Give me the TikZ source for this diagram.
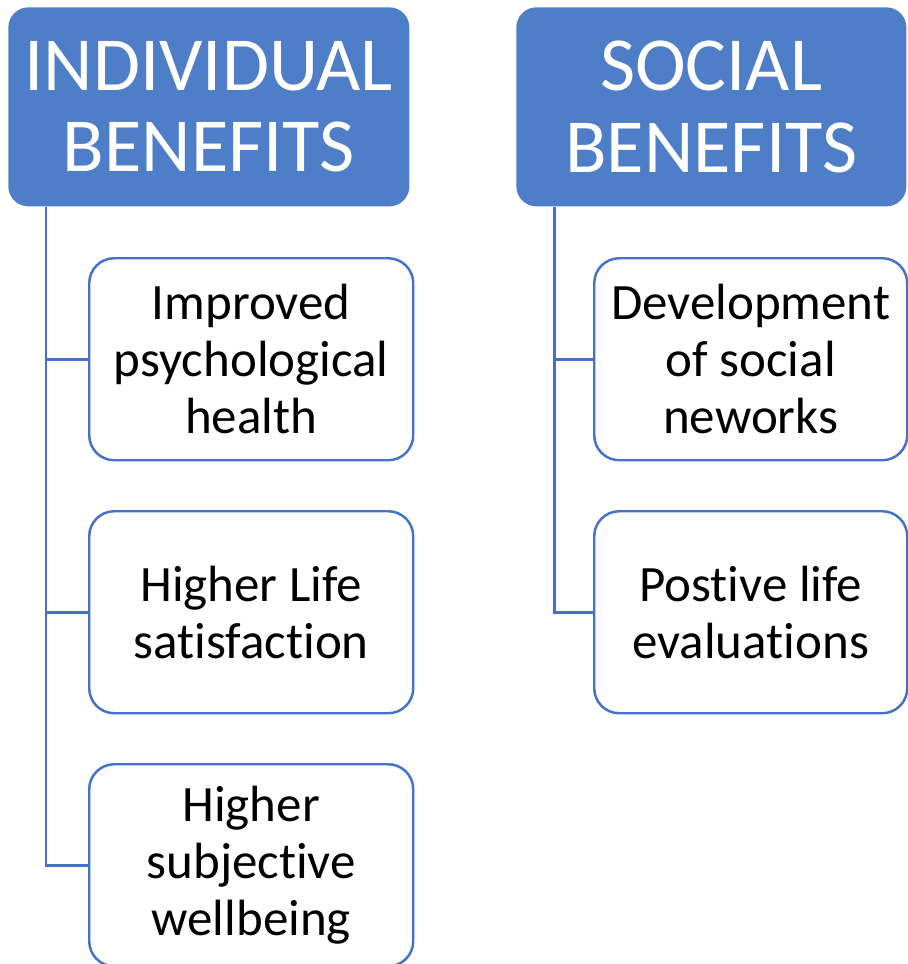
\documentclass[tikz,border=0pt]{standalone}
\usepackage{fontspec}
\setmainfont{Carlito}[Ligatures=NoCommon]
\usetikzlibrary{calc}
\definecolor{headblue}{HTML}{4F7EC9}
\definecolor{lineblue}{HTML}{4472C4}
\begin{document}
\begin{tikzpicture}
    \tikzstyle{line} = [draw=lineblue, line width=1.7pt]
    \tikzstyle{head} = [rectangle, rounded corners=0.4cm, fill=headblue,
        text=white, align=center, minimum height=3.98cm,
        font=\fontsize{43.5}{46.5}\selectfont]
    \tikzstyle{rec} = [rectangle, rounded corners=0.5cm, draw=lineblue,
        line width=1.4pt, fill=white, align=center, minimum height=4.04cm,
        font=\fontsize{29}{32.5}\selectfont]

    \useasboundingbox (0,0) rectangle (18.16,-19.28);

    \node(individual) [head, minimum width=8.02cm]
        at (0.16,-0.14) [anchor=north west]
        {INDIVIDUAL\\ BENEFITS};
    \node(social) [head, minimum width=7.8cm]
        at (10.32,-0.14) [anchor=north west]
        {SOCIAL\\ BENEFITS};

    \node(psychhealth) [rec, minimum width=6.48cm]
        at (1.76,-5.14) [anchor=north west]
        {Improved\\ psychological\\ health};
    \node(lifesat) [rec, minimum width=6.48cm, below of=psychhealth,
        node distance=5.06cm]
        {Higher Life\\ satisfaction};
    \node(wellbeing) [rec, minimum width=6.48cm, below of=lifesat,
        node distance=5.06cm]
        {Higher\\ subjective\\ wellbeing};

    \node(networks) [rec, minimum width=6.26cm]
        at (11.86,-5.14) [anchor=north west]
        {Development\\ of social\\ neworks};
    \node(evaluations) [rec, minimum width=6.26cm, below of=networks,
        node distance=5.06cm]
        {Postive life\\ evaluations};

    \coordinate(indivtrunk) at ($(individual.south west)+(0.76,0)$);
    \coordinate(socialtrunk) at ($(social.south west)+(0.76,0)$);

    \draw[line] (indivtrunk) |- (psychhealth.west);
    \draw[line] (indivtrunk) |- (lifesat.west);
    \draw[line] (indivtrunk) |- (wellbeing.west);
    \draw[line] (socialtrunk) |- (networks.west);
    \draw[line] (socialtrunk) |- (evaluations.west);
\end{tikzpicture}
\end{document}
